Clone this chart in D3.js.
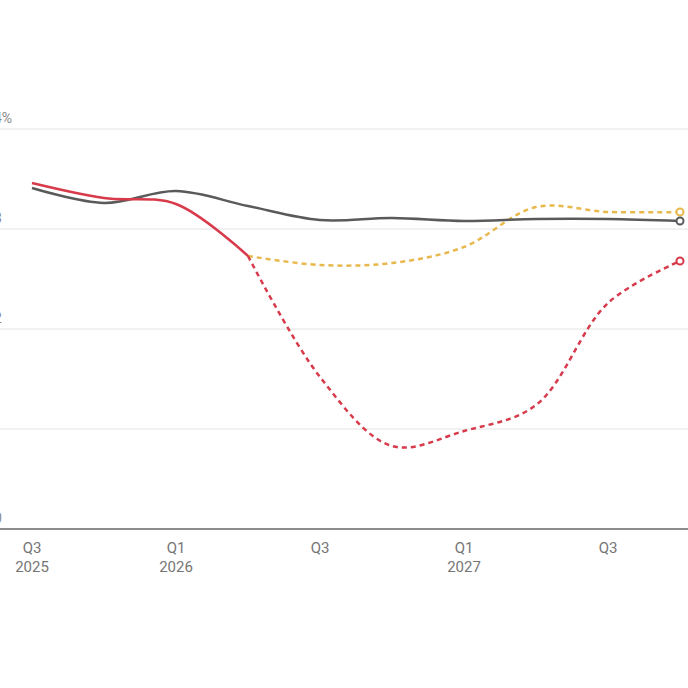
<!DOCTYPE html>
<html>
<head>
<meta charset="utf-8">
<script src="https://cdn.jsdelivr.net/npm/d3@7"></script>
<style>
  body { margin: 0; background: #fff; }
  svg { display: block; font-family: Roboto, "Noto Sans", sans-serif; }
</style>
</head>
<body>
<svg width="688" height="688"></svg>
<script>
const quarters = ["Q3 2025", "Q4 2025", "Q1 2026", "Q2 2026", "Q3 2026",
                  "Q4 2026", "Q1 2027", "Q2 2027", "Q3 2027", "Q4 2027"];
const greyLine = [3.41, 3.26, 3.38, 3.23, 3.09, 3.11, 3.08, 3.10, 3.10, 3.08];
const redActual = [3.46, 3.31, 3.25, 2.73, null, null, null, null, null, null];
const redProjection = [null, null, null, 2.73, 1.52, 0.83, 0.98, 1.24, 2.26, 2.68];
const yellowProjection = [null, null, null, 2.73, 2.64, 2.66, 2.82, 3.22, 3.17, 3.17];
const yTicks = [0, 1, 2, 3, 4];
const xTickIdx = [0, 2, 4, 6, 8];

const svg = d3.select("svg");

const x = d3.scaleLinear().domain([0, quarters.length - 1]).range([32, 680]);
const y = d3.scaleLinear().domain([0, 4]).range([529, 129]);

// gridlines + y labels
svg.selectAll("line.grid")
  .data(yTicks.filter(d => d > 0))
  .join("line")
  .attr("class", "grid")
  .attr("x1", -10).attr("x2", 700)
  .attr("y1", d => y(d)).attr("y2", d => y(d))
  .attr("stroke", "#e4e4e4")
  .attr("stroke-width", 1.2);

svg.selectAll("text.ylab")
  .data(yTicks)
  .join("text")
  .attr("class", "ylab")
  .attr("x", -6)
  .attr("y", d => y(d) - 6)
  .attr("fill", "#888")
  .attr("font-size", 14)
  .text(d => d === 4 ? d + "%" : d);

// baseline
svg.append("line")
  .attr("x1", -10).attr("x2", 700)
  .attr("y1", y(0)).attr("y2", y(0))
  .attr("stroke", "#666")
  .attr("stroke-width", 1.6);

// x labels
const xl = svg.selectAll("text.xlab")
  .data(xTickIdx)
  .join("text")
  .attr("class", "xlab")
  .attr("text-anchor", "middle")
  .attr("fill", "#757575")
  .attr("font-size", 15);
xl.append("tspan")
  .attr("x", d => x(d)).attr("y", 553)
  .text(d => quarters[d].split(" ")[0]);
xl.filter(d => quarters[d].startsWith("Q1") || d === 0)
  .append("tspan")
  .attr("x", d => x(d)).attr("y", 572)
  .text(d => quarters[d].split(" ")[1]);

const line = d3.line()
  .defined(d => d != null)
  .x((d, i) => x(i))
  .y(d => y(d))
  .curve(d3.curveCatmullRom);

const series = [
  { values: yellowProjection, color: "#e8b84c", dash: "5,4" },
  { values: redProjection, color: "#d73a4a", dash: "5,4" },
  { values: greyLine, color: "#5a5a5a", dash: null },
  { values: redActual, color: "#d73a4a", dash: null }
];

svg.selectAll("path.series")
  .data(series)
  .join("path")
  .attr("class", "series")
  .attr("fill", "none")
  .attr("stroke", d => d.color)
  .attr("stroke-width", 2.5)
  .attr("stroke-dasharray", d => d.dash)
  .attr("d", d => line(d.values));

// end markers
const last = quarters.length - 1;
svg.selectAll("circle.end")
  .data(series.filter(s => s.values[last] != null))
  .join("circle")
  .attr("class", "end")
  .attr("cx", x(last))
  .attr("cy", d => y(d.values[last]))
  .attr("r", 3.5)
  .attr("fill", "#fff")
  .attr("stroke", d => d.color)
  .attr("stroke-width", 2);
</script>
</body>
</html>
